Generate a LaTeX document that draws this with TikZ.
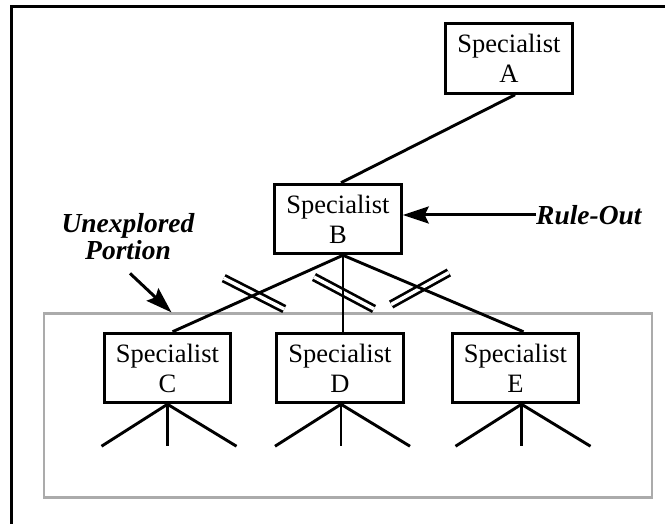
\documentclass[tikz,border=0pt]{standalone}
\usepackage{fontspec}
\setmainfont{Liberation Serif}
\usetikzlibrary{arrows.meta, positioning}
\definecolor{portiongray}{gray}{0.67}
\tikzset{%
	specialist/.style={
		rectangle,
		draw,
		line width=3pt,
		minimum width=126.5pt,
		minimum height=69.5pt,
		align=center,
		inner sep=0pt,
		font=\fontsize{26.5}{30}\selectfont
	},
	link/.style={
		line width=2.9pt
	},
	cutmark/.style={
		double,
		double distance=3.5pt,
		line width=2.7pt
	},
	pointer/.style={
		line width=3pt,
		-{Stealth[length=26pt, width=17pt, inset=4pt]}
	},
	note/.style={
		align=center,
		inner sep=0pt,
		font=\fontsize{27.5}{27}\selectfont\bfseries\itshape
	},
	portion box/.style={
		draw=portiongray,
		line width=2.6pt,
		minimum width=608pt,
		minimum height=184pt,
		inner sep=0pt
	},
}

\begin{document}
\begin{tikzpicture}[x=1pt, y=-1pt]
			\useasboundingbox (0,0) rectangle (665,524);
			% outer frame, only its top and left edges fall inside the page
			\draw[line width=2.8pt] (11.3,540) -- (11.3,6.2) -- (680,6.2);
			
			% grey region round the lower level
			\node[portion box] (portion) at (348,405.7) {};
			
			% specialists
			\node[specialist] (A) at (509,58.5) {Specialist\\A};
			\node[specialist] (B) at (338,219) {Specialist\\B};
			\node[specialist] (C) at (167.5,368) {Specialist\\C};
			\node[specialist] (D) [right=43pt of C] {Specialist\\D};
			\node[specialist] (E) [right=46pt of D] {Specialist\\E};
			
			% cut marks on the pruned branches, drawn before the links
			\draw[cutmark] (254,293.6) +(207:34) -- +(27:34);
			\draw[cutmark] (344,293) +(208:34) -- +(28:34);
			\draw[cutmark] (420,288.5) +(151:33) -- +(-29:33);
			
			% tree links
			\draw[link] ([xshift=6pt]A.south) -- ([xshift=3pt]B.north);
			\foreach \s/\t in {C/5, D/3, E/8}
				\draw[link] ([xshift=5pt]B.south) -- ([xshift=\t pt]\s.north);
			
			% branches under the lower specialists
			\foreach \s/\t in {C/0, D/1, E/6}{
				\draw[link] ([xshift=\t pt]\s.south) -- +(-66,42);
				\draw[link] ([xshift=\t pt]\s.south) -- +(0,42);
				\draw[link] ([xshift=\t pt]\s.south) -- +(69,42);
			}
			
			% labels with their arrows
			\node[note, anchor=west] (ruleout) at (536,215) {Rule-Out};
			\draw[pointer] (ruleout.west) -- (ruleout.west -| B.east);
			\node[note] (unexplored) at (128,237) {Unexplored\\Portion};
			\draw[pointer] ([xshift=2pt, yshift=-13pt]unexplored.south) -- ([xshift=4pt]C.north |- portion.north);
		\end{tikzpicture}
\end{document}
